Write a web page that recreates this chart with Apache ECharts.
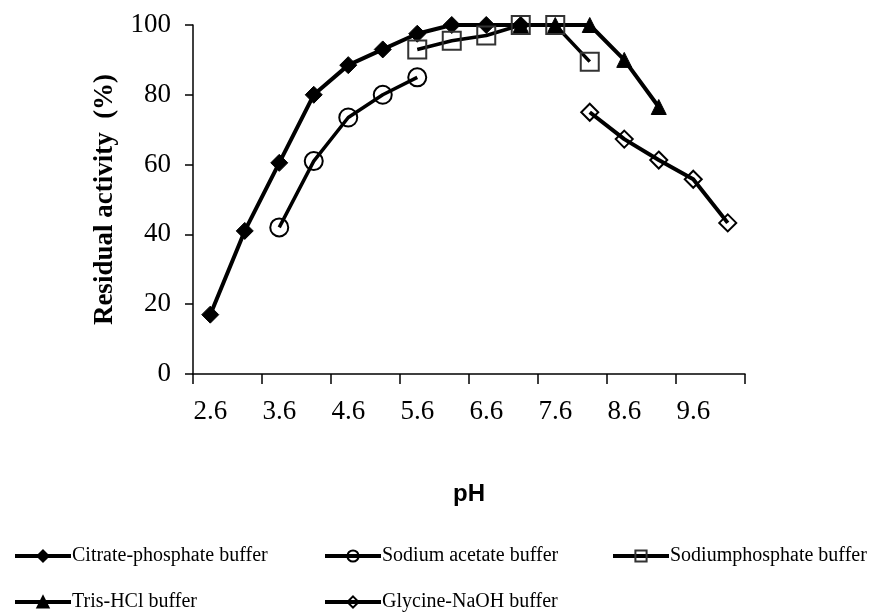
<!DOCTYPE html>
<html><head><meta charset="utf-8">
<script src="https://cdn.jsdelivr.net/npm/echarts@6/dist/echarts.min.js"></script>
<style>html,body{margin:0;padding:0;background:#fff}#c{width:874px;height:616px}</style>
</head><body><div id="c"></div>
<script>
const phCategories = ['2.6','3.1','3.6','4.1','4.6','5.1','5.6','6.1','6.6','7.1','7.6','8.1','8.6','9.1','9.6','10.1'];
const citratePhosphate = [17, 41, 60.5, 80, 88.5, 93, 97.5, 100, 100, 100, null, null, null, null, null, null];
const sodiumAcetate    = [null, null, 42, 61, 73.5, 80, 85, null, null, null, null, null, null, null, null, null];
const sodiumPhosphate  = [null, null, null, null, null, null, 93, 95.5, 97, 100, 100, 89.5, null, null, null, null];
const trisHCl          = [null, null, null, null, null, null, null, null, null, 100, 100, 100, 90, 76.5, null, null];
const glycineNaOH      = [null, null, null, null, null, null, null, null, null, null, null, 75, 67.3, 61.3, 55.8, 43.3];
const yTicks = [0, 20, 40, 60, 80, 100];

const seriesNames = ['Citrate-phosphate buffer','Sodium acetate buffer','Sodiumphosphate buffer','Tris-HCl buffer','Glycine-NaOH buffer'];

const chart = echarts.init(document.getElementById('c'), null, {renderer:'canvas'});
const serif = '"Liberation Serif","Times New Roman",serif';
function mk(name, data, symbol, size, filled, lw, borderColor) {
  return {
    name, type:'line', data, symbol, symbolSize:size, showSymbol:true,
    connectNulls:false, animation:false,
    lineStyle:{color:'#000', width:lw},
    itemStyle: filled ? {color:'#000', borderColor:'#000', borderWidth:1}
                      : {color:'rgba(255,255,255,0)', borderColor:borderColor||'#000', borderWidth:2},
    z: 3
  };
}
function lg(name, left, top) {
  return {
    data:[name], left, top, itemWidth:56, itemHeight:14, itemGap:0,
    lineStyle:{width:4, color:'#000'},
    textStyle:{fontFamily:serif, fontSize:20, color:'#000', padding:[0,0,0,-4]}
  };
}
chart.setOption({
  animation:false,
  backgroundColor:'#fff',
  grid:{left:193, right:129, top:25, bottom:242, containLabel:false},
  xAxis:{
    type:'category', data:phCategories, boundaryGap:true,
    name:'pH', nameLocation:'middle', nameGap:108,
    nameTextStyle:{fontFamily:'"Liberation Sans",Arial,sans-serif', fontWeight:'bold', fontSize:24, color:'#000'},
    axisLine:{lineStyle:{color:'#000', width:1.5}},
    axisTick:{show:true, interval:1, length:10, lineStyle:{color:'#000', width:1.5}},
    axisLabel:{interval:1, fontFamily:serif, fontSize:27, color:'#000', margin:24},
    splitLine:{show:false}
  },
  yAxis:{
    type:'value', min:yTicks[0], max:yTicks[yTicks.length-1], interval:20,
    name:'Residual activity  (%)', nameLocation:'middle', nameGap:74, nameRotate:90,
    nameTextStyle:{fontFamily:serif, fontWeight:'bold', fontSize:27, color:'#000'},
    axisLine:{show:true, lineStyle:{color:'#000', width:1.5}},
    axisTick:{show:true, length:8, lineStyle:{color:'#000', width:1.5}},
    axisLabel:{fontFamily:serif, fontSize:27, color:'#000', margin:22},
    splitLine:{show:false}
  },
  legend:[
    lg(seriesNames[0], 8, 541),
    lg(seriesNames[1], 318, 541),
    lg(seriesNames[2], 606, 541),
    lg(seriesNames[3], 8, 587),
    lg(seriesNames[4], 318, 587)
  ],
  series:[
    mk(seriesNames[0], citratePhosphate, 'diamond', 17, true, 4),
    mk(seriesNames[1], sodiumAcetate, 'circle', 18, false, 3.5),
    mk(seriesNames[2], sodiumPhosphate, 'rect', 18, false, 3.5, '#333'),
    mk(seriesNames[3], trisHCl, 'triangle', 15, true, 4),
    mk(seriesNames[4], glycineNaOH, 'diamond', 17, false, 4)
  ]
});
</script></body></html>
